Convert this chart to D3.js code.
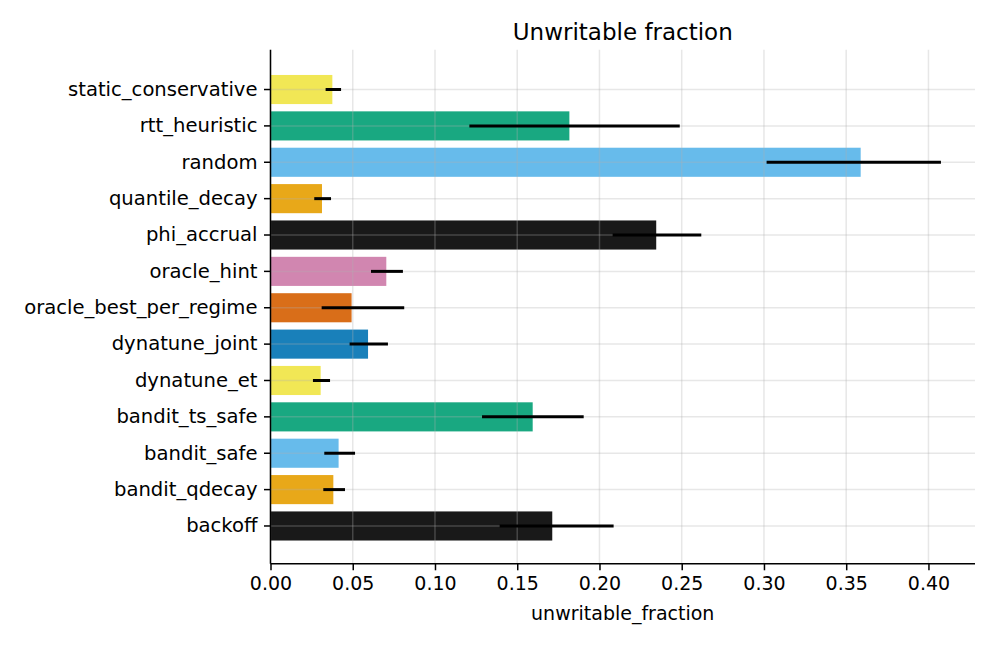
<!DOCTYPE html>
<html><head><meta charset="utf-8">
<script src="https://cdn.jsdelivr.net/npm/d3@7"></script>
<style>body{margin:0;background:#fff}svg{display:block}text{font-family:"DejaVu Sans",sans-serif;fill:#000}</style>
</head><body>
<svg id="c" width="996" height="648"></svg>
<script>
const categories = ["static_conservative","rtt_heuristic","random","quantile_decay","phi_accrual","oracle_hint","oracle_best_per_regime","dynatune_joint","dynatune_et","bandit_ts_safe","bandit_safe","bandit_qdecay","backoff"];
const values  = [0.0376,0.1817,0.3588,0.0313,0.2345,0.0704,0.0493,0.0593,0.0305,0.1594,0.0414,0.0382,0.1713];
const errLow  = [0.0335,0.1209,0.3016,0.0266,0.2080,0.0611,0.0311,0.0481,0.0258,0.1286,0.0327,0.0321,0.1393];
const errHigh = [0.0429,0.2488,0.4076,0.0368,0.2619,0.0805,0.0813,0.0714,0.0362,0.1904,0.0514,0.0453,0.2086];
const colors  = ["#f0e442","#009e73","#56b4e9","#e69f00","#000000","#cc79a7","#d55e00","#0072b2","#f0e442","#009e73","#56b4e9","#e69f00","#000000"];
const xTicks  = [0,0.05,0.10,0.15,0.20,0.25,0.30,0.35,0.40];
const titleText = "Unwritable fraction";
const xLabel = "unwritable_fraction";

const L=270.5, R=975, T=51.7, B=563.8;
const svg=d3.select("#c");
const x=d3.scaleLinear().domain([0,0.4283]).range([L,R]);
const y=d3.scaleBand().domain(categories).range([T,B]).paddingInner(0.2).paddingOuter(0.64);
const data=categories.map((c,i)=>({c,v:values[i],lo:errLow[i],hi:errHigh[i],col:colors[i]}));

// bars
svg.append("g").selectAll("rect").data(data).join("rect")
  .attr("x",x(0)).attr("y",d=>y(d.c)).attr("width",d=>x(d.v)-x(0)).attr("height",y.bandwidth())
  .attr("fill",d=>d.col).attr("fill-opacity",0.9);

// grid (on top of bars)
const g=svg.append("g").attr("stroke","#b0b0b0").attr("stroke-opacity",0.3).attr("stroke-width",1.5);
g.selectAll("line.v").data(xTicks).join("line").attr("class","v")
  .attr("x1",d=>x(d)).attr("x2",d=>x(d)).attr("y1",T-2).attr("y2",B);
g.selectAll("line.h").data(categories).join("line").attr("class","h")
  .attr("x1",L).attr("x2",R).attr("y1",d=>y(d)+y.bandwidth()/2).attr("y2",d=>y(d)+y.bandwidth()/2);

// error bars
svg.append("g").selectAll("line").data(data).join("line")
  .attr("x1",d=>x(d.lo)).attr("x2",d=>x(d.hi))
  .attr("y1",d=>y(d.c)+y.bandwidth()/2).attr("y2",d=>y(d.c)+y.bandwidth()/2)
  .attr("stroke","#000").attr("stroke-width",3);

// axes
const xa=svg.append("g").attr("transform",`translate(0,${B})`)
  .call(d3.axisBottom(x).tickValues(xTicks).tickFormat(d3.format(".2f")).tickSize(6.5).tickPadding(6.5));
const ya=svg.append("g").attr("transform",`translate(${L},0)`)
  .call(d3.axisLeft(y).tickSize(6.5).tickPadding(6.5));
[xa,ya].forEach(a=>{
  a.select(".domain").remove();
  a.selectAll(".tick line").attr("stroke","#000").attr("stroke-width",1.5);
  a.selectAll(".tick text").attr("font-family","DejaVu Sans").attr("fill","#000");
});
xa.selectAll(".tick text").attr("font-size",19).attr("dy","0.75em").attr("y",12);
ya.selectAll(".tick text").attr("font-size",19.6);
svg.append("line").attr("x1",L).attr("x2",L).attr("y1",T-2).attr("y2",B).attr("stroke","#000").attr("stroke-width",1.5);
svg.append("line").attr("x1",L).attr("x2",R).attr("y1",B).attr("y2",B).attr("stroke","#000").attr("stroke-width",1.5);

svg.append("text").attr("x",(L+R)/2).attr("y",40).attr("text-anchor","middle").attr("font-size",23).text(titleText);
svg.append("text").attr("x",(L+R)/2).attr("y",620).attr("text-anchor","middle").attr("font-size",19).text(xLabel);
</script>
</body></html>
